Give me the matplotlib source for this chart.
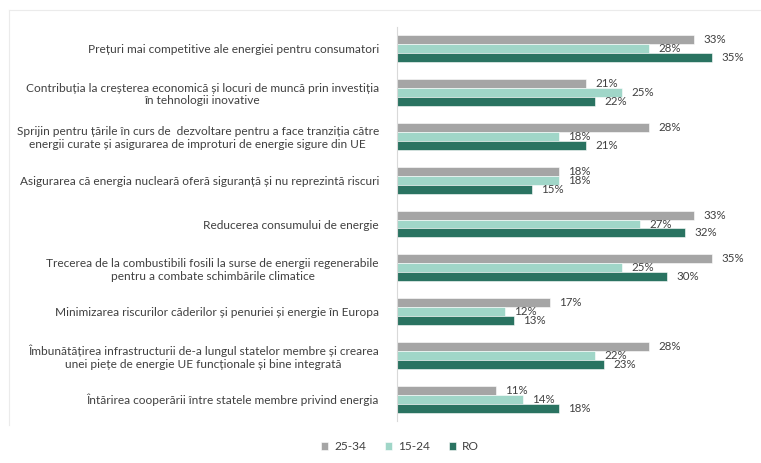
import matplotlib
matplotlib.use("Agg")
import matplotlib.pyplot as plt
from matplotlib.lines import Line2D
import numpy as np

categories = [
    "Prețuri mai competitive ale energiei pentru consumatori",
    "Contribuția la creșterea economică și locuri de muncă prin investiția\nîn tehnologii inovative",
    "Sprijin pentru țările în curs de  dezvoltare pentru a face tranziția către\nenergii curate și asigurarea de improturi de energie sigure din UE",
    "Asigurarea că energia nucleară oferă siguranță și nu reprezintă riscuri",
    "Reducerea consumului de energie",
    "Trecerea de la combustibili fosili la surse de energii regenerabile\npentru a combate schimbările climatice",
    "Minimizarea riscurilor căderilor și penuriei și energie în Europa",
    "Îmbunătățirea infrastructurii de-a lungul statelor membre și crearea\nunei piețe de energie UE funcționale și bine integrată",
    "Întărirea cooperării între statele membre privind energia",
]
series_names = ["25-34", "15-24", "RO"]
vals_25_34 = [33, 21, 28, 18, 33, 35, 17, 28, 11]
vals_15_24 = [28, 25, 18, 18, 27, 25, 12, 22, 14]
vals_ro = [35, 22, 21, 15, 32, 30, 13, 23, 18]
colors = ["#A5A5A5", "#A0D6C8", "#2A7361"]

plt.rcParams['font.family'] = ['Lato', 'DejaVu Sans']
fig = plt.figure(figsize=(7.61, 4.63), dpi=100)
W, H = 761, 463

# faint outer frame (top and left edges visible in the reference)
fig.add_artist(Line2D([9 / W, 9 / W], [1 - 10 / H, 1 - 425 / H], color='#EBEBEB', lw=0.8))
fig.add_artist(Line2D([9 / W, 1.0], [1 - 10 / H, 1 - 10 / H], color='#EBEBEB', lw=0.8))

ax = fig.add_axes([397 / W, 1 - 421 / H, 360 / W, 394 / H])

y = np.arange(len(categories))
bh = 0.205
offsets = [-bh, 0, bh]
for vals, off, c, name in zip([vals_25_34, vals_15_24, vals_ro], offsets, colors, series_names):
    bars = ax.barh(y + off, vals, height=bh, color=c, label=name, edgecolor='white', linewidth=0.4)
    for b, v in zip(bars, vals):
        ax.annotate(f"{v}%", (b.get_width(), b.get_y() + b.get_height() / 2),
                    xytext=(6.5, 0), textcoords='offset points', ha='left', va='center',
                    fontsize=8.3, color='#404040')

ax.set_xlim(0, 40)
ax.set_ylim(len(categories) - 0.5, -0.5)
ax.set_yticks(y)
ax.set_yticklabels(categories, fontsize=8.6, color='#404040')
for lbl in ax.get_yticklabels():
    lbl.set_multialignment('center')
ax.tick_params(axis='y', length=0, pad=13)
ax.set_xticks([])
for s in ['top', 'right', 'bottom']:
    ax.spines[s].set_visible(False)
ax.spines['left'].set_color('#D9D9D9')

handles, labels = ax.get_legend_handles_labels()
fig.legend(handles, labels, loc='center', bbox_to_anchor=(400 / W, 1 - 447 / H), ncol=3,
           frameon=False, fontsize=8.6, labelcolor='#404040', handlelength=0.6, handleheight=0.6,
           handletextpad=0.5, columnspacing=1.6)

fig.savefig("out.png", dpi=100)
